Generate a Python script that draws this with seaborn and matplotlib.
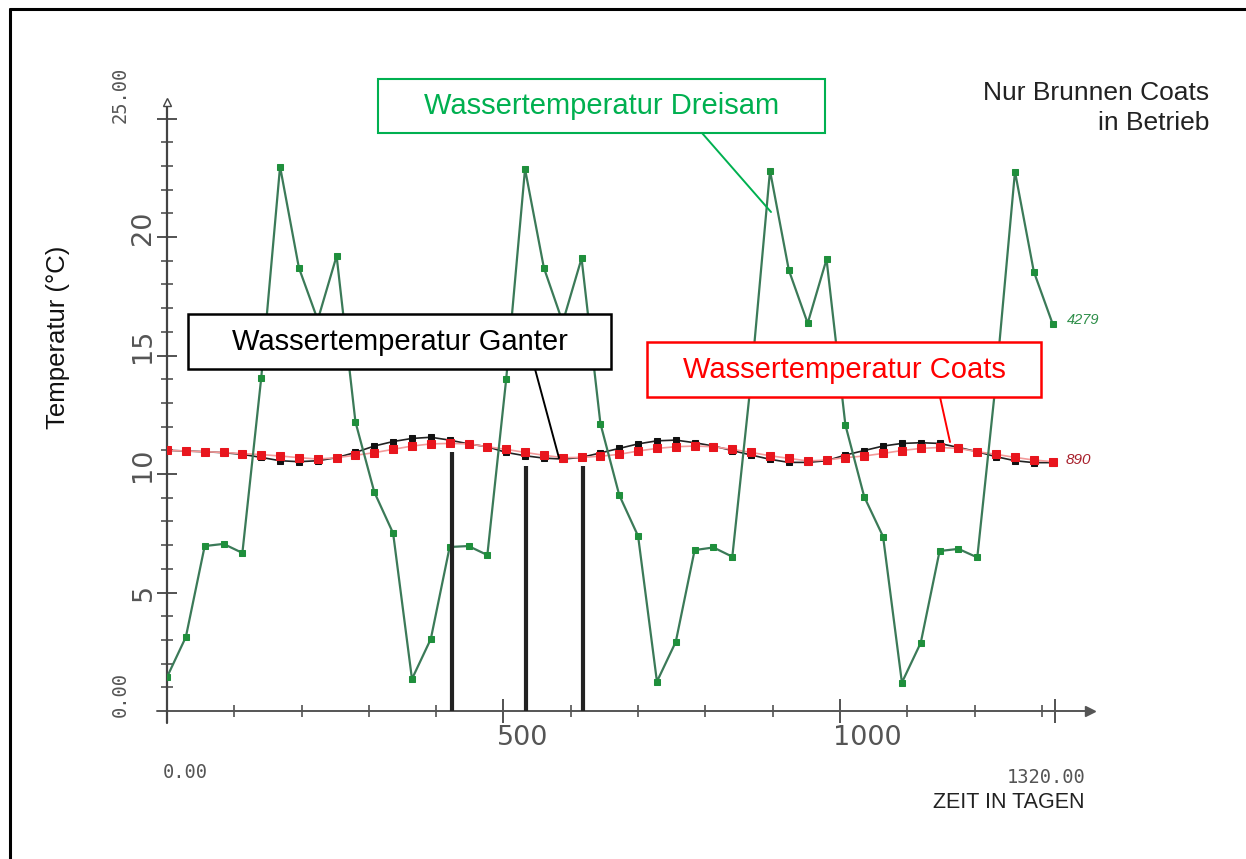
import numpy as np
import pandas as pd
import matplotlib
matplotlib.use("Agg")
import matplotlib.pyplot as plt
from matplotlib import font_manager
from matplotlib.patches import Rectangle
from matplotlib.lines import Line2D
import seaborn as sns

# ---------------- data ----------------
days = [0, 28, 56, 84, 112, 140, 168, 196, 224, 252, 280, 308, 336, 364,
        392, 420, 448, 476, 504, 532, 560, 588, 616, 644, 672, 700, 728, 756,
        784, 812, 840, 868, 896, 924, 952, 980, 1008, 1036, 1064, 1092, 1120,
        1148, 1176, 1204, 1232, 1260, 1288, 1316]

dreisam = [1.43, 3.12, 6.96, 7.05, 6.67, 14.05, 22.97, 18.7, 16.5, 19.2, 12.2,
           9.24, 7.5, 1.35, 3.04, 6.92, 6.96, 6.58, 14.0, 22.87, 18.7, 16.4,
           19.1, 12.13, 9.11, 7.38, 1.24, 2.92, 6.79, 6.9, 6.51, 14.0, 22.8,
           18.6, 16.36, 19.06, 12.07, 9.04, 7.36, 1.2, 2.88, 6.75, 6.84, 6.48,
           14.0, 22.76, 18.54, 16.33]

ganter = [11.0, 10.97, 10.94, 10.9, 10.83, 10.7, 10.56, 10.52, 10.56, 10.69,
          10.91, 11.18, 11.37, 11.5, 11.55, 11.43, 11.27, 11.15, 10.91, 10.77,
          10.67, 10.63, 10.7, 10.89, 11.08, 11.27, 11.4, 11.43, 11.32, 11.18,
          10.99, 10.8, 10.62, 10.49, 10.49, 10.56, 10.8, 10.99, 11.18, 11.29,
          11.32, 11.29, 11.12, 10.94, 10.73, 10.56, 10.48, 10.48]

coats = [11.0, 10.97, 10.94, 10.91, 10.86, 10.82, 10.76, 10.69, 10.63, 10.69,
         10.79, 10.9, 11.04, 11.18, 11.27, 11.29, 11.27, 11.15, 11.04, 10.91,
         10.79, 10.69, 10.7, 10.75, 10.83, 10.97, 11.08, 11.15, 11.18, 11.15,
         11.04, 10.91, 10.77, 10.66, 10.55, 10.59, 10.69, 10.76, 10.87, 10.99,
         11.08, 11.12, 11.08, 10.94, 10.83, 10.7, 10.59, 10.52]

event_days = [423, 534, 618]
event_tops = [10.94, 10.34, 10.34]

x_major = [500, 1000, 1320]
x_minor = [100, 200, 300, 400, 600, 700, 800, 900, 1100, 1200, 1300]
y_major = [5, 10, 15, 20, 25]
y_minor = [1, 2, 3, 4, 6, 7, 8, 9, 11, 12, 13, 14, 16, 17, 18, 19, 21, 22, 23, 24]

x_ticklabels = {500: "500", 1000: "1000"}
y_ticklabels = {5: "5", 10: "10", 15: "15", 20: "20"}

df = pd.DataFrame({"Tag": days, "Dreisam": dreisam, "Ganter": ganter, "Coats": coats})

# ---------------- style ----------------
sns.set_style("white")
names = {f.name for f in font_manager.fontManager.ttflist}
NARROW = "Liberation Sans Narrow" if "Liberation Sans Narrow" in names else "Liberation Sans"
plt.rcParams["font.family"] = ["Liberation Sans", "DejaVu Sans"]

W, H = 1246, 859
fig = plt.figure(figsize=(W / 100, H / 100), dpi=100)

X0, PXD = 167, 0.673      # pixel of day 0, pixels per day
Y0, PXT = 711, 23.7       # pixel of 0 degC, pixels per degree
XMAX, YMAX = 1400, 26
ax = fig.add_axes([X0 / W, (H - Y0) / H, XMAX * PXD / W, YMAX * PXT / H])

def fx(px, py):
    return (px / W, 1 - py / H)

# series
sns.lineplot(data=df, x="Tag", y="Ganter", ax=ax, color="#222222", lw=1.2,
             marker="s", markersize=5, markerfacecolor="#111111",
             markeredgecolor="#111111", zorder=3)
sns.lineplot(data=df, x="Tag", y="Coats", ax=ax, color="#f39a9a", lw=1.2,
             marker="s", markersize=5.2, markerfacecolor="#e8161e",
             markeredgecolor="#e8161e", zorder=4)
sns.lineplot(data=df, x="Tag", y="Dreisam", ax=ax, color="#3b7a58", lw=1.6,
             marker="s", markersize=4, markerfacecolor="#1f8f3c",
             markeredgecolor="#1f8f3c", zorder=5)
ax.vlines(event_days, 0, event_tops, color="#222222", lw=3, zorder=6)

ax.set_xlim(0, XMAX)
ax.set_ylim(0, YMAX)
ax.set_xlabel("")
ax.set_ylabel("")
for s in ax.spines.values():
    s.set_visible(False)
ax.patch.set_alpha(0)

# axis lines with arrows
axis_col = "#555555"
ax.plot([-15, 1368], [0, 0], color=axis_col, lw=1.4, clip_on=False, zorder=2)
ax.plot([1371], [0], marker=">", color=axis_col, markersize=7, clip_on=False, zorder=2)
ax.plot([0, 0], [-0.5, 25.55], color="#444444", lw=1.6, clip_on=False, zorder=2)
ax.plot([0], [25.7], marker="^", color="#444444", markersize=6, clip_on=False, zorder=2,
        markerfacecolor="white")

ax.set_xticks(x_major)
ax.set_xticks(x_minor, minor=True)
ax.set_yticks(y_major)
ax.set_yticks(y_minor, minor=True)
ax.tick_params(axis="x", which="major", direction="inout", length=17, width=1.3,
               color="#444444", labelbottom=False, bottom=True)
ax.tick_params(axis="x", which="minor", direction="inout", length=9, width=1.1,
               color="#444444", bottom=True)
ax.tick_params(axis="y", which="major", direction="inout", length=15, width=1.3,
               color="#444444", labelleft=False, left=True)
ax.tick_params(axis="y", which="minor", direction="inout", length=8, width=1.1,
               color="#444444", left=True)

# tick labels (plotter style)
tick_col = "#555555"
for v, lab in x_ticklabels.items():
    ax.text(v - 10, -1.15, lab, ha="left", va="center", fontsize=19.5,
            family="DejaVu Sans", color=tick_col, clip_on=False)
for v, lab in y_ticklabels.items():
    off = 0 if v == 5 else 0.4
    ax.text(-35, v + off, lab, ha="center", va="center", fontsize=19.5, rotation=90,
            family="DejaVu Sans", color=tick_col, clip_on=False)
ax.text(-7, -2.58, "0.00", ha="left", va="center", fontsize=13.5,
        family="DejaVu Sans Mono", color=tick_col, clip_on=False)
ax.text(1306, -2.8, "1320.00", ha="center", va="center", fontsize=13.5,
        family="DejaVu Sans Mono", color=tick_col, clip_on=False)
ax.text(-69, 0.7, "0.00", ha="center", va="center", fontsize=13.5, rotation=90,
        family="DejaVu Sans Mono", color=tick_col, clip_on=False)
ax.text(-69, 25.99, "25.00", ha="center", va="center", fontsize=13.5, rotation=90,
        family="DejaVu Sans Mono", color=tick_col, clip_on=False)

# end labels
ax.text(1337, 16.5, "4279", ha="left", va="center", fontsize=10.5, style="italic",
        color="#2f8f4a", clip_on=False)
ax.text(1335, 10.58, "890", ha="left", va="center", fontsize=11, style="italic",
        color="#a8202c", clip_on=False)

# axis titles
fig.text(*fx(58, 337), "Temperatur (°C)", rotation=90, ha="center", va="center",
         fontsize=18.5, color="#111111")
fig.text(*fx(1009, 803), "ZEIT IN TAGEN", ha="center", va="center",
         fontsize=15.5, family=NARROW, color="#222222")
fig.text(*fx(1209, 93), "Nur Brunnen Coats", ha="right", va="center",
         fontsize=19, family=NARROW, color="#222222")
fig.text(*fx(1209, 123), "in Betrieb", ha="right", va="center",
         fontsize=19, family=NARROW, color="#222222")

# annotation boxes
def box(x1, y1, x2, y2, text, col, lw, line):
    (fx1, fy1), (fx2, fy2) = fx(x1, y1), fx(x2, y2)
    fig.add_artist(Rectangle((fx1, fy2), fx2 - fx1, fy1 - fy2, transform=fig.transFigure,
                             facecolor="white", edgecolor=col, lw=lw, zorder=10))
    cx, cy = fx((x1 + x2) / 2, (y1 + y2) / 2)
    fig.text(cx, cy, text, ha="center", va="center", fontsize=21, color=col, zorder=11)
    (lx1, ly1), (lx2, ly2) = fx(*line[0]), fx(*line[1])
    fig.add_artist(Line2D([lx1, lx2], [ly1, ly2], transform=fig.transFigure,
                          color=col, lw=1.4, zorder=9))

box(378, 79, 825, 133, "Wassertemperatur Dreisam", "#00b050", 1.5, ((702, 133), (771, 212)))
box(188, 314, 611, 369, "Wassertemperatur Ganter", "#000000", 1.8, ((535, 369), (559, 458)))
box(647, 342, 1041, 397, "Wassertemperatur Coats", "#ff0000", 1.8, ((940, 397), (950, 442)))

# outer frame (left and top edges)
fig.add_artist(Line2D([fx(10, 0)[0], fx(10, 0)[0]], [0.0, fx(0, 9)[1]],
                      transform=fig.transFigure, color="black", lw=2.2))
fig.add_artist(Line2D([fx(10, 0)[0], 1.0], [fx(0, 9)[1], fx(0, 9)[1]],
                      transform=fig.transFigure, color="black", lw=2.2))

fig.savefig("out.png", dpi=100, facecolor="white")
